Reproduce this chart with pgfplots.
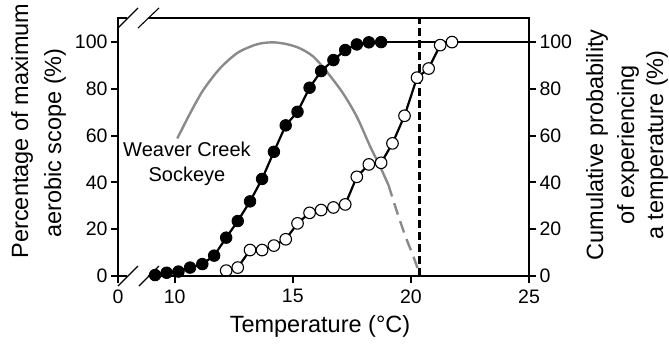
\documentclass[border=0pt]{standalone}
\usepackage{pgfplots}
\pgfplotsset{compat=1.18}
\usepackage{fontspec}
\setmainfont{Liberation Sans}
\definecolor{curvegray}{HTML}{8A8A8A}
\begin{document}
\begin{tikzpicture}
\useasboundingbox (-118pt,-70pt) rectangle (551pt,276pt);
\begin{axis}[
  at={(0,0)}, anchor=south west,
  scale only axis, width=411pt, height=258pt,
  xmin=7.6, xmax=25, ymin=0, ymax=110.3,
  xtick={7.6,10,15,20,25}, xticklabels={0,10,15,20,25},
  ytick={0,20,...,100},
  xtick pos=left, ytick pos=left, tick align=outside,
  major tick length=7pt,
  major tick style={line width=2pt, black},
  axis line style={draw=none},
  ticklabel style={font=\fontsize{19.5}{22}\selectfont},
  xticklabel style={yshift=-3pt},
  /pgf/number format/assume math mode=true,
  clip=false,
]
% gray aerobic scope curve
\addplot[curvegray, line width=2.4pt, smooth, tension=0.5] coordinates {
(10.11,58.8) (10.65,69.5) (11.21,79.5) (11.92,88.8) (12.63,95.2) (13.19,98.0) (13.62,99.4) (14.18,99.9) (14.75,99.1) (15.31,97.3) (15.88,93.7) (16.44,87.3) (17.10,78.5) (17.71,68.1) (18.28,55.3) (18.70,46.7) (19.05,38.9)};
\addplot[curvegray, line width=2.4pt, dash pattern=on 12pt off 7pt, smooth, tension=0.5] coordinates {
(19.05,38.9) (19.41,27.5) (19.76,17.2) (20.11,8.2) (20.40,0)};
% dashed vertical
\addplot[black, line width=2.4pt, dash pattern=on 8pt off 4pt] coordinates {(20.37,0) (20.37,110.3)};
% lines continuing at 100
\addplot[black, line width=2.2pt] coordinates {(18.74,100) (25,100)};
% filled circles
\addplot[black, line width=2.2pt, mark=*, mark size=5.8pt, mark options={fill=black, line width=0.8pt}] coordinates {
(9.17,0.4) (9.66,1.4) (10.16,1.9) (10.65,3.6) (11.17,5.1) (11.67,8.7) (12.18,16.4) (12.67,23.5) (13.19,31.9) (13.70,41.5) (14.20,53.1) (14.70,64.4) (15.20,70.2) (15.71,80.5) (16.20,87.6) (16.72,92.3) (17.22,96.6) (17.71,99.0) (18.22,99.9) (18.74,100)};
% open circles
\addplot[black, line width=2.2pt, mark=*, mark size=5.8pt, mark options={fill=white, line width=1.1pt}] coordinates {
(12.18,2.3) (12.67,3.6) (13.19,11.1) (13.70,11.1) (14.20,13.0) (14.70,15.7) (15.20,22.5) (15.71,27.0) (16.20,28.2) (16.72,29.3) (17.22,30.6) (17.71,42.4) (18.22,47.7) (18.74,48.4) (19.22,56.7) (19.73,68.5) (20.26,84.8) (20.75,88.7) (21.24,98.7) (21.74,100)};
\node[align=center, font=\fontsize{20}{25}\selectfont] at (axis cs:10.52,47.9) {Weaver Creek\\Sockeye};
\end{axis}
\begin{axis}[
  at={(0,0)}, anchor=south west,
  scale only axis, width=411pt, height=258pt,
  xmin=7.6, xmax=25, ymin=0, ymax=110.3,
  xtick=\empty,
  ytick={0,20,...,100},
  ytick pos=right, tick align=outside,
  major tick length=7pt,
  major tick style={line width=2pt, black},
  axis line style={draw=none},
  ticklabel style={font=\fontsize{19.5}{22}\selectfont},
  /pgf/number format/assume math mode=true,
]
\end{axis}
% axis lines with break
\begin{scope}[line width=2.2pt, line cap=butt]
\draw (0,-5.5pt) -- (0,259pt);
\draw (411pt,-5.5pt) -- (411pt,259pt);
\draw (-6pt,0) -- (9pt,0);
\draw (30pt,0) -- (412pt,0);
\draw (-1pt,258pt) -- (9pt,258pt);
\draw (31pt,258pt) -- (412pt,258pt);
\end{scope}
\begin{scope}[line width=1.1pt]
\draw (0,-10pt) -- (20pt,10pt);
\draw (21pt,-10pt) -- (41pt,10pt);
\draw (0,248pt) -- (20pt,268pt);
\draw (20pt,248pt) -- (41pt,268pt);
\end{scope}
% axis labels
\begin{scope}[font=\fontsize{23.5}{28}\selectfont]
\node[rotate=90] at (-96pt,145pt) {Percentage of maximum};
\node[rotate=90] at (-63pt,133pt) {aerobic scope (\%)};
\node[rotate=90] at (479pt,131pt) {Cumulative probability};
\node[rotate=90] at (510pt,131pt) {of experiencing};
\node[rotate=90] at (539pt,131pt) {a temperature (\%)};
\node at (202pt,-50pt) {Temperature (°C)};
\end{scope}
\end{tikzpicture}
\end{document}
